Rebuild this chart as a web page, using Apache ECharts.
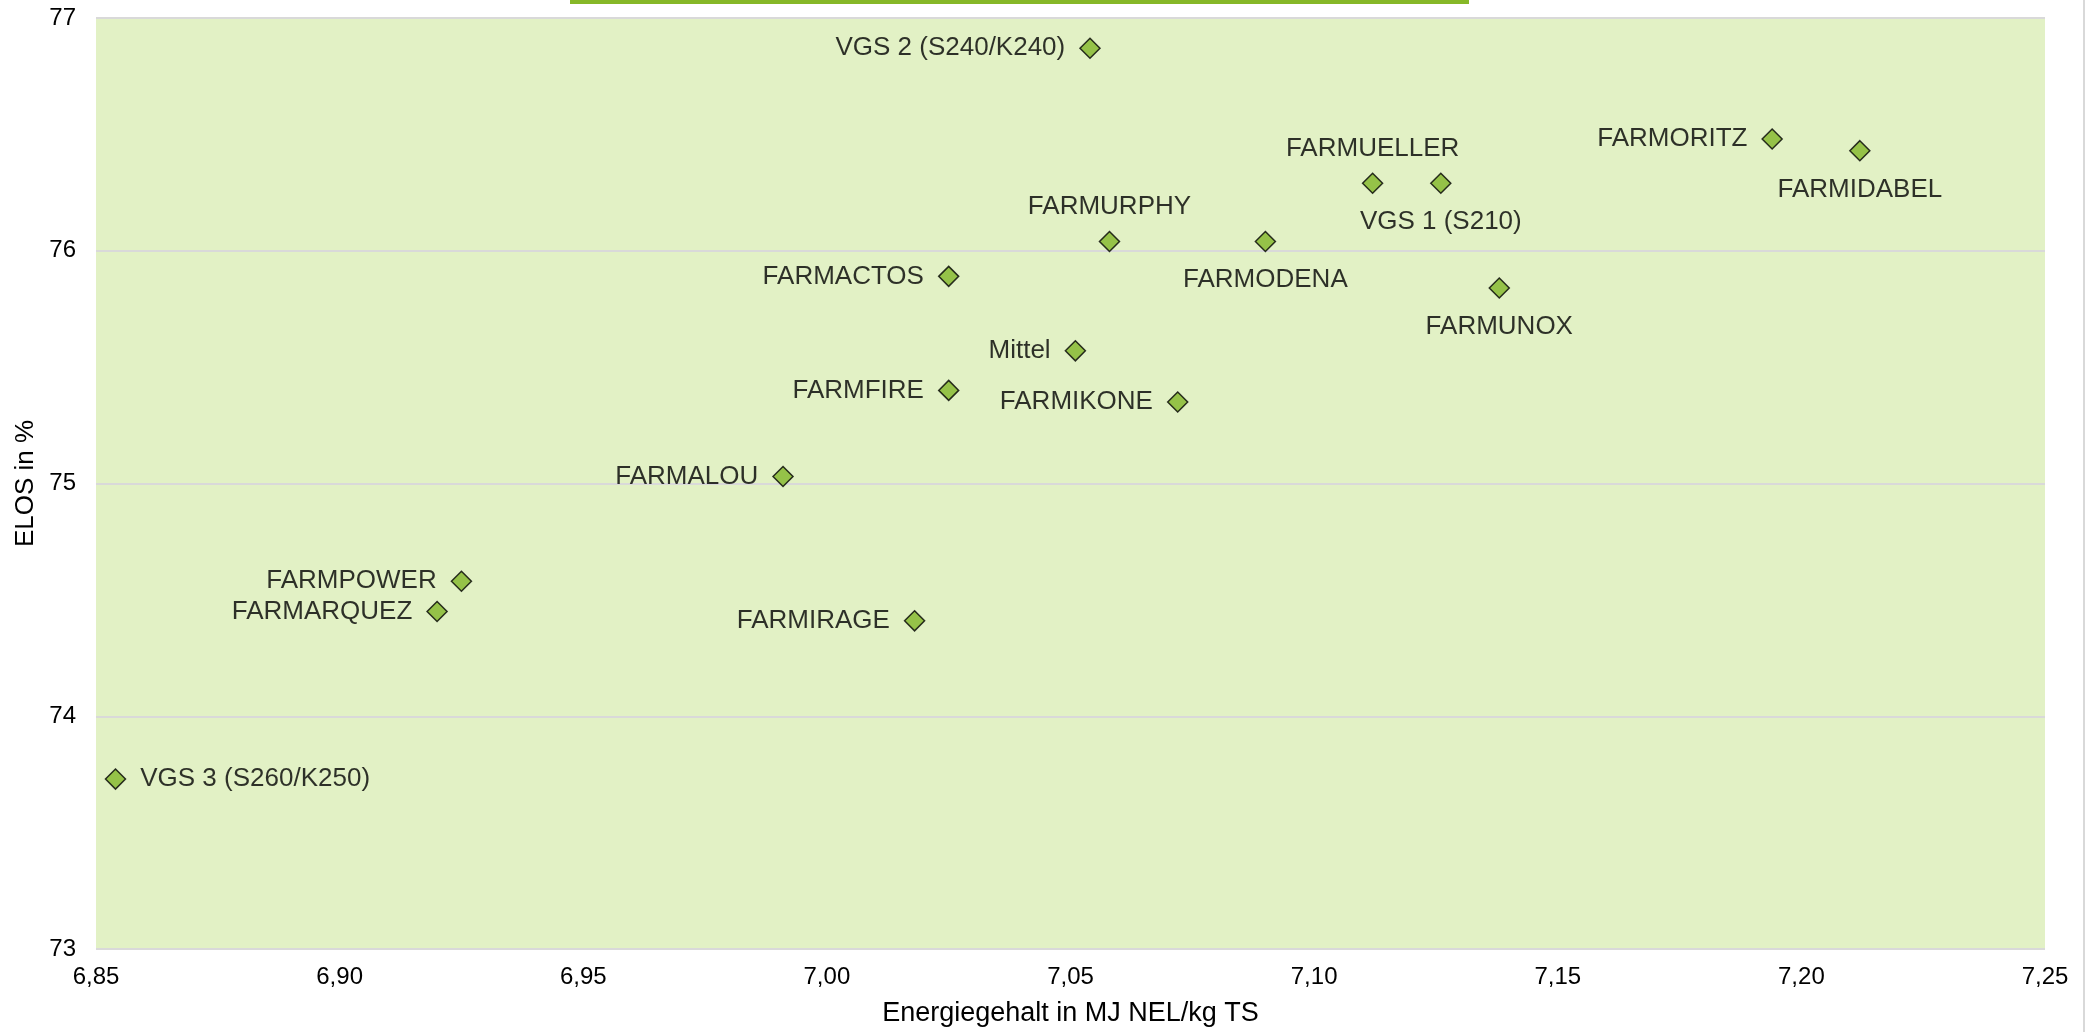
<!DOCTYPE html>
<html>
<head>
<meta charset="utf-8">
<title>ELOS vs Energiegehalt</title>
<script src="https://cdn.jsdelivr.net/npm/echarts@6/dist/echarts.min.js"></script>
<style>
    html, body { margin: 0; padding: 0; background: #fff; }
    #chart { width: 2094px; height: 1032px; }
</style>
</head>
<body>
<div id="chart"></div>
<script>
// Sorten / Varianten
const names = [
    'VGS 2 (S240/K240)', 'FARMORITZ', 'FARMIDABEL', 'FARMUELLER', 'VGS 1 (S210)',
    'FARMURPHY', 'FARMODENA', 'FARMACTOS', 'FARMUNOX', 'Mittel',
    'FARMFIRE', 'FARMIKONE', 'FARMALOU', 'FARMPOWER', 'FARMARQUEZ',
    'FARMIRAGE', 'VGS 3 (S260/K250)'
]
// Energiegehalt in MJ NEL/kg TS
const energy = [
    7.054, 7.194, 7.212, 7.112, 7.126,
    7.058, 7.090, 7.025, 7.138, 7.051,
    7.025, 7.072, 6.991, 6.925, 6.920,
    7.018, 6.854
]
// ELOS in %
const elos = [
    76.87, 76.48, 76.43, 76.29, 76.29,
    76.04, 76.04, 75.89, 75.84, 75.57,
    75.40, 75.35, 75.03, 74.58, 74.45,
    74.41, 73.73
]

// where the label sits next to each point
const labelSide = {
    'FARMIDABEL': 'bottom',
    'FARMUELLER': 'top',
    'VGS 1 (S210)': 'bottom',
    'FARMURPHY': 'top',
    'FARMODENA': 'bottom',
    'FARMUNOX': 'bottom',
    'VGS 3 (S260/K250)': 'right'
}
const sideDistance = {left: 14, right: 14, top: 11, bottom: 15}

const points = names.map((name, i) => {
    const side = labelSide[name] || 'left'
    return {
        name: name,
        value: [energy[i], elos[i]],
        label: {position: side, distance: sideDistance[side]}
    }
})

const dom = echarts.init(document.getElementById('chart'))
const font = '"Liberation Sans", Arial, sans-serif'

dom.setOption({
    animation: false,
    textStyle: {fontFamily: font},
    grid: {
        left: 96,
        right: 49,
        top: 18,
        bottom: 77,
        show: true,
        backgroundColor: '#E2F1C5',
        borderWidth: 0
    },
    xAxis: {
        type: 'value',
        min: 6.85,
        max: 7.25,
        interval: 0.05,
        name: 'Energiegehalt in MJ NEL/kg TS',
        nameLocation: 'middle',
        nameGap: 51,
        nameTextStyle: {fontSize: 27, color: '#000', fontFamily: font},
        axisLine: {show: false},
        axisTick: {show: false},
        splitLine: {show: false},
        axisLabel: {
            fontSize: 24,
            color: '#000',
            margin: 16,
            formatter: v => v.toFixed(2).replace('.', ',')
        }
    },
    yAxis: {
        type: 'value',
        min: 73,
        max: 77,
        interval: 1,
        name: 'ELOS in %',
        nameLocation: 'middle',
        nameGap: 57,
        nameTextStyle: {fontSize: 26, color: '#000', fontFamily: font},
        axisLine: {show: false},
        axisTick: {show: false},
        splitLine: {lineStyle: {color: '#D9D9D9', width: 2}},
        axisLabel: {fontSize: 24, color: '#000', margin: 20}
    },
    series: [
        {
            type: 'scatter',
            symbol: 'diamond',
            symbolSize: [20, 20],
            itemStyle: {color: '#82B628', borderColor: '#000', borderWidth: 1.5},
            label: {
                show: true,
                formatter: '{b}',
                fontSize: 26,
                color: '#000',
                fontFamily: font
            },
            data: points
        }
    ],
    graphic: [
        {
            type: 'rect',
            shape: {x: 570, y: 0, width: 899, height: 4},
            style: {fill: '#86B828'}
        },
        {
            type: 'line',
            shape: {x1: 2084, y1: 0, x2: 2084, y2: 1032},
            style: {stroke: '#D9D9D9', lineWidth: 2}
        }
    ]
})
window.addEventListener('resize', () => dom.resize())
</script>
</body>
</html>
